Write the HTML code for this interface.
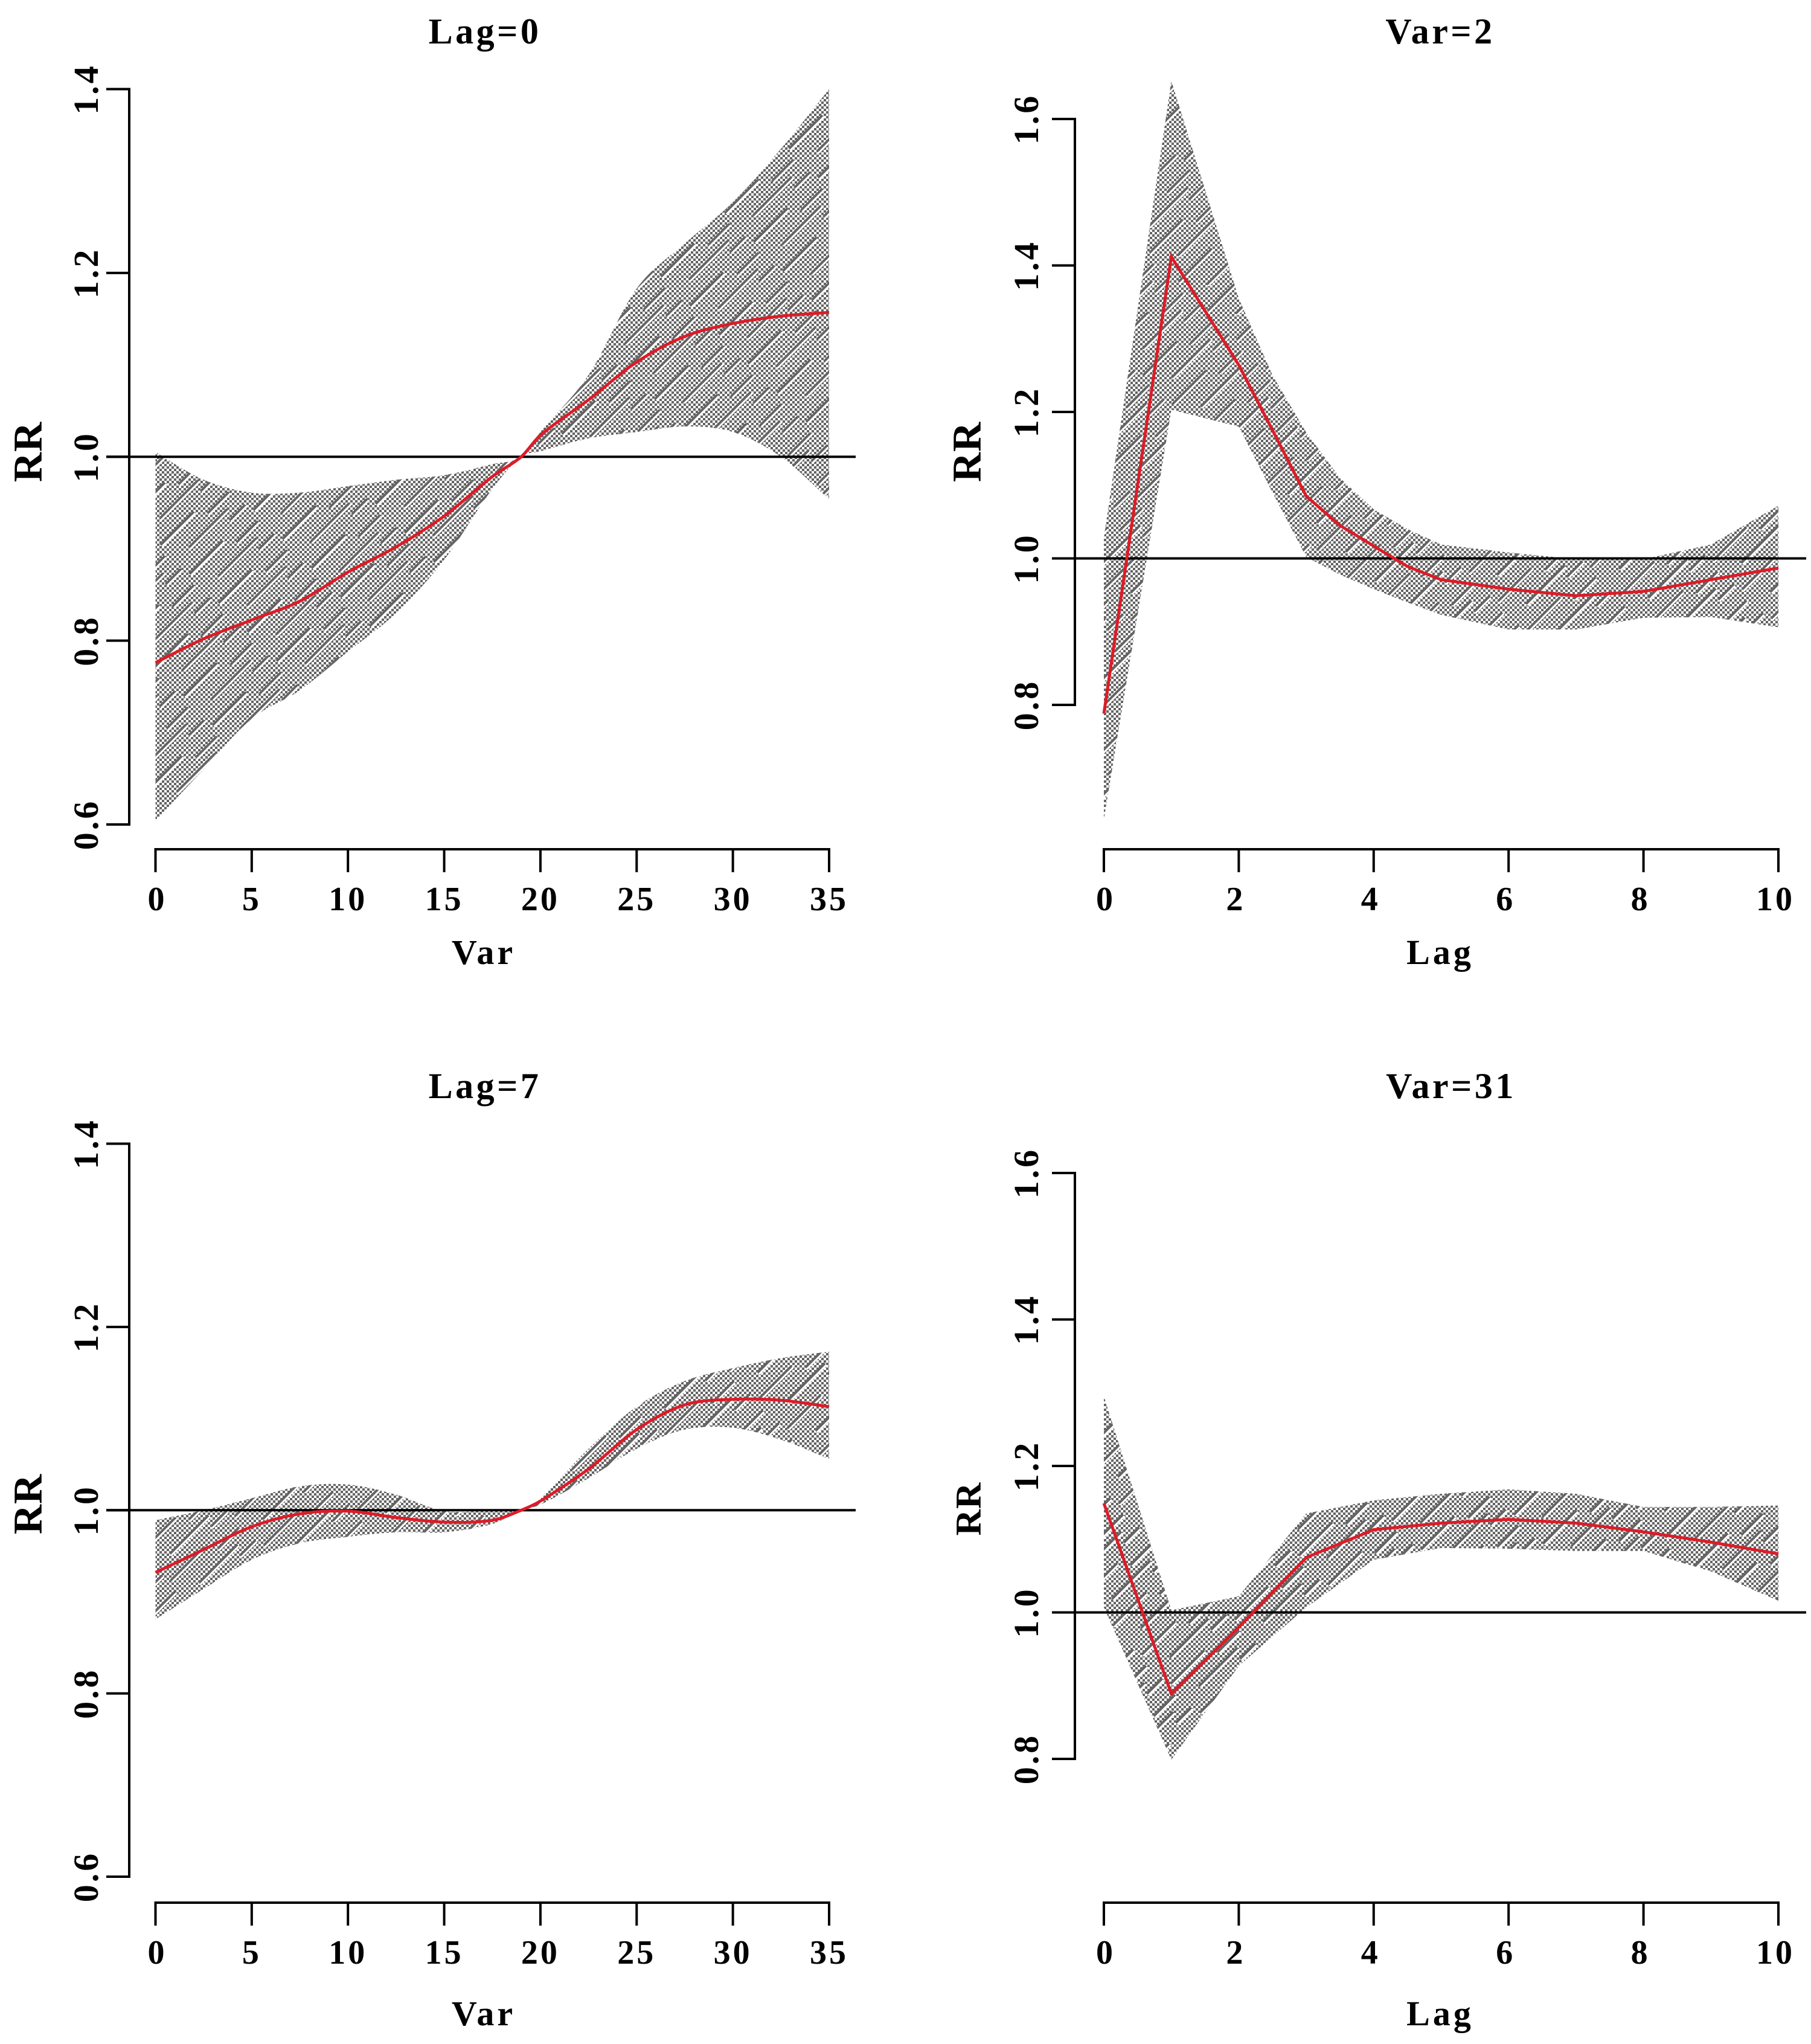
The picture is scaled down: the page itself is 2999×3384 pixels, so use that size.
<!DOCTYPE html>
<html lang="en">
<head>
<meta charset="utf-8">
<title>RR charts</title>
<style>
html,body{margin:0;padding:0;background:#fff;}
svg{display:block;}
text{font-family:"Liberation Serif",serif;font-weight:bold;fill:#000;}
</style>
</head>
<body>
<svg id="chart" xmlns="http://www.w3.org/2000/svg" width="2999" height="3384" viewBox="0 0 2999 3384">
  <defs>
    <pattern id="checker" patternUnits="userSpaceOnUse" width="8" height="8">
      <rect width="4" height="4" x="0" y="0" fill="#646464" shape-rendering="crispEdges"/>
      <rect width="4" height="4" x="4" y="4" fill="#646464" shape-rendering="crispEdges"/>
    </pattern>
    <pattern id="streaks" patternUnits="userSpaceOnUse" width="150" height="68" patternTransform="rotate(-45)">
      <rect x="0" y="8" width="78" height="4" fill="#646464"/>
      <rect x="0" y="12" width="78" height="3" fill="#fff"/>
      <rect x="92" y="26" width="50" height="4" fill="#646464"/>
      <rect x="92" y="30" width="50" height="3" fill="#fff"/>
      <rect x="30" y="44" width="90" height="4" fill="#646464"/>
      <rect x="30" y="48" width="90" height="3" fill="#fff"/>
      <rect x="110" y="60" width="36" height="4" fill="#646464"/>
      <rect x="110" y="64" width="36" height="3" fill="#fff"/>
    </pattern>
  </defs>

  <g id="panel-a">
    <text x="803" y="72" text-anchor="middle" font-size="60" letter-spacing="4.5">Lag=0</text>
    <text x="801" y="1596" text-anchor="middle" font-size="58" letter-spacing="5">Var</text>
    <text transform="translate(69,748) rotate(-90)" text-anchor="middle" font-size="68" letter-spacing="1">RR</text>
  </g>
  <g id="panel-b">
    <text x="2385" y="72" text-anchor="middle" font-size="60" letter-spacing="4.5">Var=2</text>
    <text x="2385" y="1596" text-anchor="middle" font-size="58" letter-spacing="5">Lag</text>
    <text transform="translate(1624,748) rotate(-90)" text-anchor="middle" font-size="68" letter-spacing="1">RR</text>
  </g>
  <g id="panel-c">
    <text x="803" y="1818" text-anchor="middle" font-size="60" letter-spacing="4.5">Lag=7</text>
    <text x="801" y="3353" text-anchor="middle" font-size="58" letter-spacing="5">Var</text>
    <text transform="translate(69,2490) rotate(-90)" text-anchor="middle" font-size="68" letter-spacing="1">RR</text>
  </g>
  <g id="panel-d">
    <text x="2403" y="1818" text-anchor="middle" font-size="60" letter-spacing="4.5">Var=31</text>
    <text x="2385" y="3353" text-anchor="middle" font-size="58" letter-spacing="5">Lag</text>
    <text transform="translate(1624,2498) rotate(-90)" text-anchor="middle" font-size="60" letter-spacing="1">RR</text>
  </g>
</svg>
<script>
// Tick labels
const varTicks = [0, 5, 10, 15, 20, 25, 30, 35];
const lagTicks = [0, 2, 4, 6, 8, 10];
const rrTicksWide = [0.6, 0.8, 1.0, 1.2, 1.4];
const rrTicksHigh = [0.8, 1.0, 1.2, 1.4, 1.6];

// Shared x values
const varGrid = [0, 2.5, 5, 7.5, 10, 12.5, 15, 17.5, 19, 20, 22.5, 25, 27.5, 30, 32.5, 35];
const lagGrid = [0, 1, 2, 2.5, 3, 3.5, 4, 4.5, 5, 6, 7, 8, 9, 10];
const lagGridShort = [0, 1, 2, 3, 4, 5, 6, 7, 8, 9, 10];

// Lag=0
const lag0Fit = [0.776, 0.802, 0.8225, 0.843, 0.8745, 0.902, 0.9355, 0.9785, 1.0, 1.0235, 1.062, 1.103, 1.131, 1.145, 1.153, 1.157];
const lag0Upper = [1.005, 0.975, 0.961, 0.961, 0.968, 0.975, 0.98, 0.992, 1.0, 1.027, 1.089, 1.183, 1.232, 1.277, 1.335, 1.4];
const lag0Lower = [0.604, 0.66, 0.715, 0.746, 0.788, 0.83, 0.888, 0.965, 1.0, 1.006, 1.02, 1.027, 1.033, 1.027, 1.0, 0.954];

// Var=2
const var2Fit = [0.788, 1.412, 1.264, 1.175, 1.085, 1.045, 1.017, 0.989, 0.971, 0.958, 0.949, 0.955, 0.971, 0.987];
const var2Upper = [1.028, 1.652, 1.355, 1.25, 1.172, 1.11, 1.067, 1.04, 1.019, 1.008, 0.999, 0.999, 1.019, 1.072];
const var2Lower = [0.644, 1.203, 1.18, 1.09, 1.002, 0.978, 0.958, 0.94, 0.923, 0.903, 0.903, 0.919, 0.92, 0.906];

// Lag=7
const lag7Fit = [0.932, 0.957, 0.982, 0.996, 0.999, 0.992, 0.987, 0.989, 1.0, 1.01, 1.045, 1.088, 1.115, 1.121, 1.12, 1.113];
const lag7Upper = [0.989, 1.0, 1.013, 1.026, 1.028, 1.017, 0.999, 1.0, 1.0, 1.013, 1.067, 1.113, 1.141, 1.155, 1.166, 1.173];
const lag7Lower = [0.881, 0.914, 0.946, 0.964, 0.971, 0.976, 0.976, 0.985, 1.0, 1.006, 1.035, 1.067, 1.088, 1.09, 1.077, 1.056];

// Var=31
const var31Fit = [1.149, 0.889, 0.98, 1.075, 1.113, 1.122, 1.127, 1.122, 1.11, 1.096, 1.08];
const var31Upper = [1.295, 1.003, 1.022, 1.135, 1.153, 1.162, 1.168, 1.162, 1.144, 1.144, 1.146];
const var31Lower = [1.007, 0.799, 0.927, 1.007, 1.072, 1.088, 1.087, 1.084, 1.084, 1.056, 1.016];

const NS = 'http://www.w3.org/2000/svg';

function shape(parent, tag, attrs) {
  const el = document.createElementNS(NS, tag);
  for (const k in attrs) el.setAttribute(k, attrs[k]);
  parent.appendChild(el);
  return el;
}

function linear(d0, d1, r0, r1) {
  return function (v) { return r0 + (v - d0) * (r1 - r0) / (d1 - d0); };
}

// Straight segments (lag panels keep their knots) or a smooth Hermite curve (var panels).
function pathOf(xs, ys, sx, sy, smooth) {
  const px = xs.map(sx);
  const py = ys.map(sy);
  let d = 'M' + px[0].toFixed(1) + ' ' + py[0].toFixed(1);
  const n = px.length;
  function slope(i) {
    const a = Math.max(0, i - 1);
    const b = Math.min(n - 1, i + 1);
    return (py[b] - py[a]) / (px[b] - px[a]);
  }
  for (let i = 1; i < n; i++) {
    if (!smooth) {
      d += ' L' + px[i].toFixed(1) + ' ' + py[i].toFixed(1);
    } else {
      const h = (px[i] - px[i - 1]) / 3;
      d += ' C' + (px[i - 1] + h).toFixed(1) + ' ' + (py[i - 1] + slope(i - 1) * h).toFixed(1) + ' ' +
        (px[i] - h).toFixed(1) + ' ' + (py[i] - slope(i) * h).toFixed(1) + ' ' +
        px[i].toFixed(1) + ' ' + py[i].toFixed(1);
    }
  }
  return d;
}

function drawPanel(cfg) {
  const g = document.getElementById(cfg.id);
  const sx = linear(cfg.xTicks[0], cfg.xTicks[cfg.xTicks.length - 1], cfg.left, cfg.right);
  const sy = linear(cfg.yTicks[0], cfg.yTicks[cfg.yTicks.length - 1], cfg.bottom, cfg.top);

  const reversedX = cfg.xs.slice().reverse();
  const reversedLow = cfg.lower.slice().reverse();
  const bandD = pathOf(cfg.xs, cfg.upper, sx, sy, cfg.smooth) + ' ' +
    pathOf(reversedX, reversedLow, sx, sy, cfg.smooth).replace('M', 'L') + ' Z';

  const band = shape(g, 'path', { d: bandD, fill: 'url(#checker)' });
  
  

  const streak = shape(g, 'path', { d: bandD, fill: 'url(#streaks)' });
  
  

  const ref = shape(g, 'line', { x1: cfg.axisX - 38, x2: cfg.refEnd, y1: sy(1), y2: sy(1), stroke: '#000', 'stroke-width': 4 });
  
  

  const fit = shape(g, 'path', { d: pathOf(cfg.xs, cfg.fit, sx, sy, cfg.smooth), fill: 'none', stroke: '#dc1c28', 'stroke-width': 5, 'stroke-linejoin': 'miter' });
  
  

  const yAxis = shape(g, 'line', { x1: cfg.axisX, x2: cfg.axisX, y1: cfg.top - 2, y2: cfg.bottom + 2, stroke: '#000', 'stroke-width': 4 });
  
  

  cfg.yTicks.forEach(function (t) {
    const mark = shape(g, 'line', { x1: cfg.axisX - 38, x2: cfg.axisX, y1: sy(t), y2: sy(t), stroke: '#000', 'stroke-width': 4 });
    
    
    const label = shape(g, 'text', { transform: 'translate(' + cfg.yLabelX + ',' + sy(t).toFixed(1) + ') rotate(-90)', 'text-anchor': 'middle', 'font-size': 58, 'letter-spacing': 4 });
    label.textContent = t.toFixed(1);
    
    
  });

  const xAxis = shape(g, 'line', { x1: cfg.left - 2, x2: cfg.right + 2, y1: cfg.axisY, y2: cfg.axisY, stroke: '#000', 'stroke-width': 4 });
  
  

  cfg.xTicks.forEach(function (t) {
    const mark = shape(g, 'line', { x1: sx(t), x2: sx(t), y1: cfg.axisY, y2: cfg.axisY + 38, stroke: '#000', 'stroke-width': 4 });
    
    
    const labelX = sx(t) + (t === 0 ? 3 : cfg.labelShift);
    const label = shape(g, 'text', { x: labelX.toFixed(1), y: cfg.xLabelY, 'text-anchor': 'middle', 'font-size': 56, 'letter-spacing': 4 });
    label.textContent = String(t);
    
    
  });
}

drawPanel({ id: 'panel-a', xs: varGrid, fit: lag0Fit, upper: lag0Upper, lower: lag0Lower, xTicks: varTicks, yTicks: rrTicksWide, smooth: true, labelShift: 0,
  left: 257.5, right: 1373, top: 147.5, bottom: 1365, axisX: 214, axisY: 1406, refEnd: 1417, yLabelX: 162, xLabelY: 1507 });
drawPanel({ id: 'panel-b', xs: lagGrid, fit: var2Fit, upper: var2Upper, lower: var2Lower, xTicks: lagTicks, yTicks: rrTicksHigh, smooth: false, labelShift: -5,
  left: 1828, right: 2945, top: 197, bottom: 1167, axisX: 1780, axisY: 1406, refEnd: 2991, yLabelX: 1719, xLabelY: 1507 });
drawPanel({ id: 'panel-c', xs: varGrid, fit: lag7Fit, upper: lag7Upper, lower: lag7Lower, xTicks: varTicks, yTicks: rrTicksWide, smooth: true, labelShift: 0,
  left: 257.5, right: 1373, top: 1893.5, bottom: 3107, axisX: 214, axisY: 3150, refEnd: 1417, yLabelX: 162, xLabelY: 3251 });
drawPanel({ id: 'panel-d', xs: lagGridShort, fit: var31Fit, upper: var31Upper, lower: var31Lower, xTicks: lagTicks, yTicks: rrTicksHigh, smooth: false, labelShift: -5,
  left: 1828, right: 2945, top: 1942, bottom: 2912, axisX: 1780, axisY: 3150, refEnd: 2991, yLabelX: 1719, xLabelY: 3251 });
</script>
</body>
</html>
